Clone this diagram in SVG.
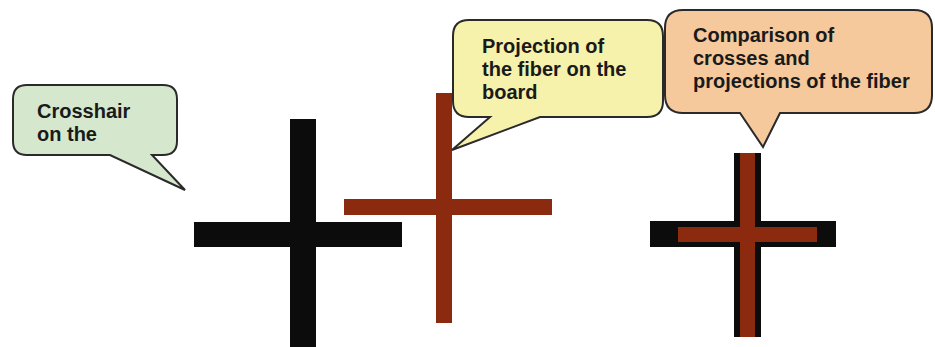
<svg xmlns="http://www.w3.org/2000/svg" width="935" height="347" viewBox="0 0 935 347">
<style>
.call{stroke:#2a2a2a;stroke-width:2;stroke-linejoin:miter}
.t{font-family:"Liberation Sans",Arial,sans-serif;font-weight:bold;font-size:20px;fill:#1a1a1a}
.blk{fill:#0c0c0c}
.red{fill:#8b2a0e}
</style>
<rect width="935" height="347" fill="#ffffff"/>
<g id="cross-black">
<rect class="blk" x="290" y="119" width="26" height="228"/>
<rect class="blk" x="194" y="222" width="208" height="25"/>
</g>
<g id="cross-red">
<rect class="red" x="436" y="93" width="16" height="230"/>
<rect class="red" x="344" y="199" width="208" height="16"/>
</g>
<g id="cross-compare">
<rect class="blk" x="734" y="153" width="27" height="184"/>
<rect class="blk" x="650" y="221" width="186" height="26"/>
<rect class="red" x="740" y="153" width="15" height="184"/>
<rect class="red" x="678" y="227" width="139" height="15"/>
</g>
<g id="callout-crosshair">
<path class="call" fill="#d5e8cd" d="M27,85 H163 Q177,85 177,99 V141 Q177,155 163,155 H152 L185,190 L110,155 H27 Q13,155 13,141 V99 Q13,85 27,85 Z"/>
<text class="t" x="37" y="118">Crosshair</text>
<text class="t" x="37" y="141">on the</text>
</g>
<g id="callout-projection">
<path class="call" fill="#f6f1ab" d="M469,20 H647 Q663,20 663,36 V101 Q663,117 647,117 H540 L452,150 L490,117 H469 Q453,117 453,101 V36 Q453,20 469,20 Z"/>
<text class="t" x="482" y="53">Projection of</text>
<text class="t" x="482" y="76">the fiber on the</text>
<text class="t" x="482" y="99">board</text>
</g>
<g id="callout-comparison">
<path class="call" fill="#f6c99c" d="M683,10 H914 Q932,10 932,28 V95 Q932,113 914,113 H780 L763,147 L740,113 H683 Q665,113 665,95 V28 Q665,10 683,10 Z"/>
<text class="t" x="693" y="42">Comparison of</text>
<text class="t" x="693" y="65">crosses and</text>
<text class="t" x="693" y="88">projections of the fiber</text>
</g>
</svg>
